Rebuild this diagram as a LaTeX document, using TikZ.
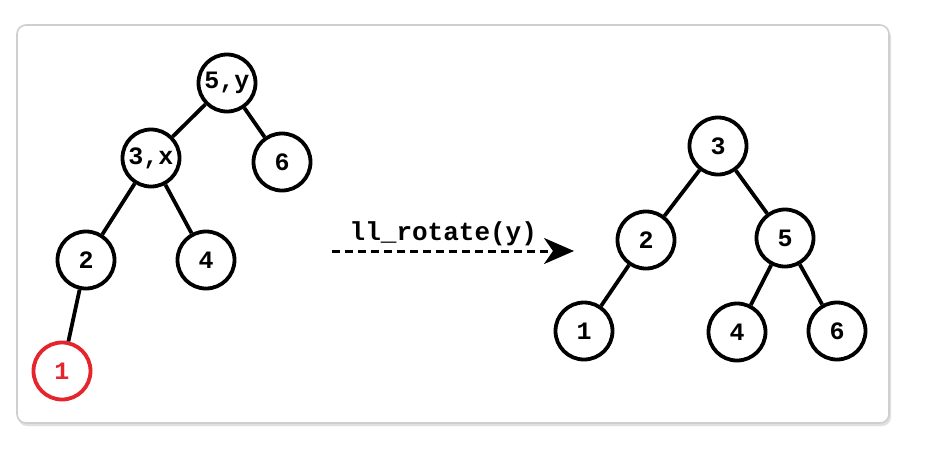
\documentclass[tikz,border=0pt]{standalone}
\usepackage{fontspec}
\setmonofont{Liberation Mono}
\usetikzlibrary{arrows.meta,shadows}
\definecolor{redc}{HTML}{E5242C}
\definecolor{panelb}{HTML}{CFCFCF}
\tikzset{
  tnode/.style={circle, draw=black, line width=3.8pt, fill=white, minimum size=57pt, inner sep=0pt, font=\ttfamily\bfseries\fontsize{25}{25}\selectfont},
  rnode/.style={tnode, draw=redc, text=redc},
  edge/.style={line width=3.8pt, draw=black},
  panel/.style={draw=panelb, line width=1.6pt, rounded corners=9pt, fill=white},
}
\begin{document}
\begin{tikzpicture}[x=1pt,y=-1pt]
\useasboundingbox (0,0) rectangle (932,456);
\fill[black!12, rounded corners=9pt] (18,28) rectangle (891,426);
\draw[panel] (17,25) rectangle (889,423);
% left tree
\node[tnode] (l5) at (227,83) {5,y};
\node[tnode] (l3) at (151,158) {3,x};
\node[tnode] (l6) at (282,162) {6};
\node[tnode] (l2) at (86,260) {2};
\node[tnode] (l4) at (206,260) {4};
\node[rnode] (l1) at (62,371) {1};
\draw[edge] (l5) -- (l3);
\draw[edge] (l5) -- (l6);
\draw[edge] (l3) -- (l2);
\draw[edge] (l3) -- (l4);
\draw[edge] (l2) -- (l1);
% right tree
\node[tnode] (r3) at (718,146) {3};
\node[tnode] (r2) at (646,240) {2};
\node[tnode] (r5) at (785,238) {5};
\node[tnode] (r1) at (584,331) {1};
\node[tnode] (r4) at (737,332) {4};
\node[tnode] (r6) at (837,331) {6};
\draw[edge] (r3) -- (r2);
\draw[edge] (r3) -- (r5);
\draw[edge] (r2) -- (r1);
\draw[edge] (r5) -- (r4);
\draw[edge] (r5) -- (r6);
% arrow
\coordinate (as) at (332,251);
\coordinate (ae) at (574,251);
\draw[line width=3pt, dash pattern=on 8pt off 5pt, -{Stealth[length=30pt,width=26pt,inset=9pt]}] (as) -- (ae)
  node[pos=0.46, above=0pt, font=\ttfamily\bfseries\fontsize{26}{26}\selectfont] (lab) {ll\_rotate(y)};
\end{tikzpicture}
\end{document}
